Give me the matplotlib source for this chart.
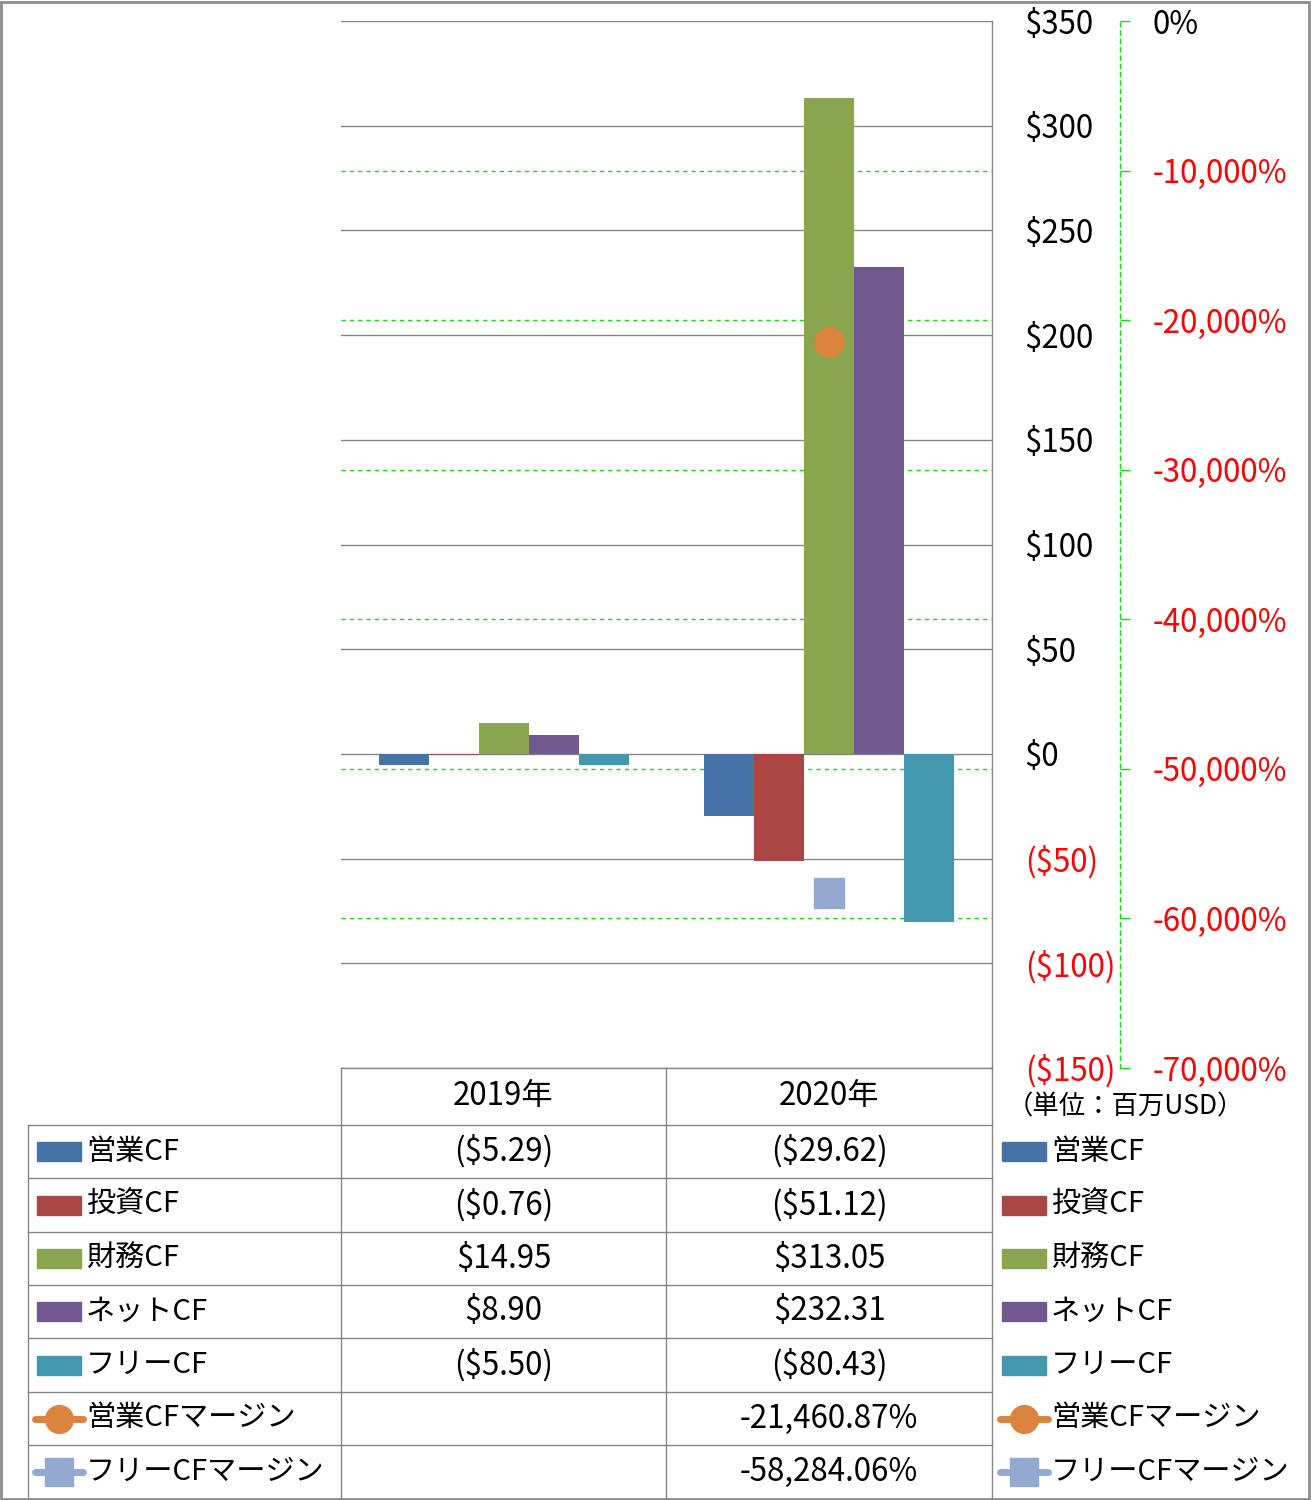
import numpy as np
import matplotlib
matplotlib.use("Agg")
import matplotlib.pyplot as plt
from matplotlib.lines import Line2D
from matplotlib.patches import Rectangle
from matplotlib.transforms import blended_transform_factory

plt.rcParams['font.family'] = ['Noto Sans CJK JP', 'DejaVu Sans']

# data
years = ['2019年', '2020年']
bar_names = ['営業CF', '投資CF', '財務CF', 'ネットCF', 'フリーCF']
bar_colors = ['#4572A7', '#AA4643', '#89A54E', '#71588F', '#4198AF']
op_cf = [-5.29, -29.62]
inv_cf = [-0.76, -51.12]
fin_cf = [14.95, 313.05]
net_cf = [8.90, 232.31]
free_cf = [-5.50, -80.43]
bar_values = [op_cf, inv_cf, fin_cf, net_cf, free_cf]

margin_names = ['営業CFマージン', 'フリーCFマージン']
op_margin = [np.nan, -21460.87]
free_margin = [np.nan, -58284.06]
margin_values = [op_margin, free_margin]
margin_colors = ['#DB843D', '#93A9CF']
margin_markers = ['o', 's']

usd_ticks = list(range(-150, 351, 50))
pct_ticks = list(range(-70000, 1, 10000))
unit_note = '（単位：百万USD）'

# figure in pixel coordinates
W, H = 1311, 1500
fig = plt.figure(figsize=(W / 100, H / 100), dpi=100)


def fx(x):
    return x / W


def fy(y):
    return 1 - y / H


GRAY = '#868686'
GREEN = '#11dd11'
FS = 22.5
LFS = 21  # legend labels

ax = fig.add_axes([fx(341), fy(1068), (992 - 341) / W, (1068 - 21) / H])
ax2 = ax.twinx()

# bars
x = np.arange(len(years))
width = 1 / 6.5
for i, (name, vals, c) in enumerate(zip(bar_names, bar_values, bar_colors)):
    ax.bar(x + (i - 2) * width, vals, width, color=c, zorder=3, label=name)

ax.set_xlim(-0.5, len(years) - 0.5)
ax.set_ylim(usd_ticks[0], usd_ticks[-1])
ax.set_xticks([])
for s in ['left', 'top', 'bottom']:
    ax.spines[s].set_visible(False)
ax.spines['right'].set_color(GRAY)
ax.spines['right'].set_linewidth(1)
ax.yaxis.tick_right()
ax.set_yticks(usd_ticks, labels=[f"(${abs(v):,.0f})" if v < 0 else f"${v:,.0f}" for v in usd_ticks])
ax.tick_params(axis='y', length=0, pad=23.5, labelsize=FS)
for lab, v in zip(ax.get_yticklabels(), usd_ticks):
    lab.set_color('red' if v < 0 else 'black')
    lab.set_horizontalalignment('left')
ax.yaxis.grid(True, color=GRAY, lw=1, zorder=0)
ax.set_axisbelow(True)

# secondary axis
ax2.set_ylim(pct_ticks[0], pct_ticks[-1])
for s in ['left', 'top', 'bottom']:
    ax2.spines[s].set_visible(False)
ax2.spines['right'].set_position(('axes', (1120 - 341) / (992 - 341)))
ax2.spines['right'].set_color(GREEN)
ax2.spines['right'].set_linestyle((0, (3, 3)))
ax2.spines['right'].set_linewidth(1)
ax2.set_yticks(pct_ticks, labels=[f"{v:,.0f}%" for v in pct_ticks])
ax2.tick_params(axis='y', length=7.2, width=1, color=GREEN, direction='out', pad=16, labelsize=FS)
for lab, v in zip(ax2.get_yticklabels(), pct_ticks):
    lab.set_color('red' if v < 0 else 'black')

# secondary gridlines drawn behind bars
tr = blended_transform_factory(ax.transAxes, ax2.transData)
for v in pct_ticks[1:-1]:
    ax.plot([0, 1], [v, v], transform=tr, color=GREEN, lw=1, ls=(0, (3, 3)), zorder=1)

for name, vals, c, m in zip(margin_names, margin_values, margin_colors, margin_markers):
    ax2.plot(x, vals, ls='none', marker=m, ms=21, color=c, mec=c, zorder=5)

# data table
def hline(y, x0, x1):
    fig.add_artist(Line2D([fx(x0), fx(x1)], [fy(y), fy(y)], color=GRAY, lw=1))


def vline(xp, y0, y1):
    fig.add_artist(Line2D([fx(xp), fx(xp)], [fy(y0), fy(y1)], color=GRAY, lw=1))


row_tops = [1125, 1178, 1232, 1285, 1338, 1392, 1445, 1498]
hline(1068, 341, 992)
for y in row_tops[:-1]:
    hline(y, 28, 992)
vline(28, 1125, 1498)
vline(341, 1068, 1498)
vline(666, 1068, 1498)
vline(992, 1068, 1498)

col_x = [503.5, 829]
for cx, yr in zip(col_x, years):
    fig.text(fx(cx), fy(1096), yr, ha='center', va='center', fontsize=FS)

fig.text(fx(1125), fy(1107), unit_note, ha='center', va='center', fontsize=19)


def fmt_usd(v):
    return f"(${abs(v):,.2f})" if v < 0 else f"${v:,.2f}"


def fmt_pct(v):
    return '' if np.isnan(v) else f"{v:,.2f}%"


def legend_key(x0, yc, kind, color, marker=None):
    if kind == 'bar':
        fig.add_artist(Rectangle((fx(x0), fy(yc + 9.5)), 44 / W, 19 / H, color=color,
                                 transform=fig.transFigure))
    else:
        fig.add_artist(Line2D([fx(x0 - 2), fx(x0 + 46)], [fy(yc), fy(yc)], color=color, lw=5,
                              solid_capstyle='round'))
        fig.add_artist(Line2D([fx(x0 + 22)], [fy(yc)], marker=marker, ms=20, color=color, mec=color))


rows = []
for name, vals, c in zip(bar_names, bar_values, bar_colors):
    rows.append((name, [fmt_usd(v) for v in vals], 'bar', c, None))
for name, vals, c, m in zip(margin_names, margin_values, margin_colors, margin_markers):
    rows.append((name, [fmt_pct(v) for v in vals], 'line', c, m))

for i, (name, texts, kind, c, m) in enumerate(rows):
    yc = (row_tops[i] + row_tops[i + 1]) / 2
    legend_key(37, yc, kind, c, m)
    fig.text(fx(86), fy(yc), name, ha='left', va='center', fontsize=LFS)
    for cx, t in zip(col_x, texts):
        fig.text(fx(cx), fy(yc), t, ha='center', va='center', fontsize=FS)
    legend_key(1002, yc, kind, c, m)
    fig.text(fx(1051), fy(yc), name, ha='left', va='center', fontsize=LFS)

# outer border
fig.add_artist(Rectangle((0.0008, 0.0008), 0.998, 0.998, fill=False, ec='#8c8c8c', lw=2,
                         transform=fig.transFigure))

fig.savefig('out.png', dpi=100)
